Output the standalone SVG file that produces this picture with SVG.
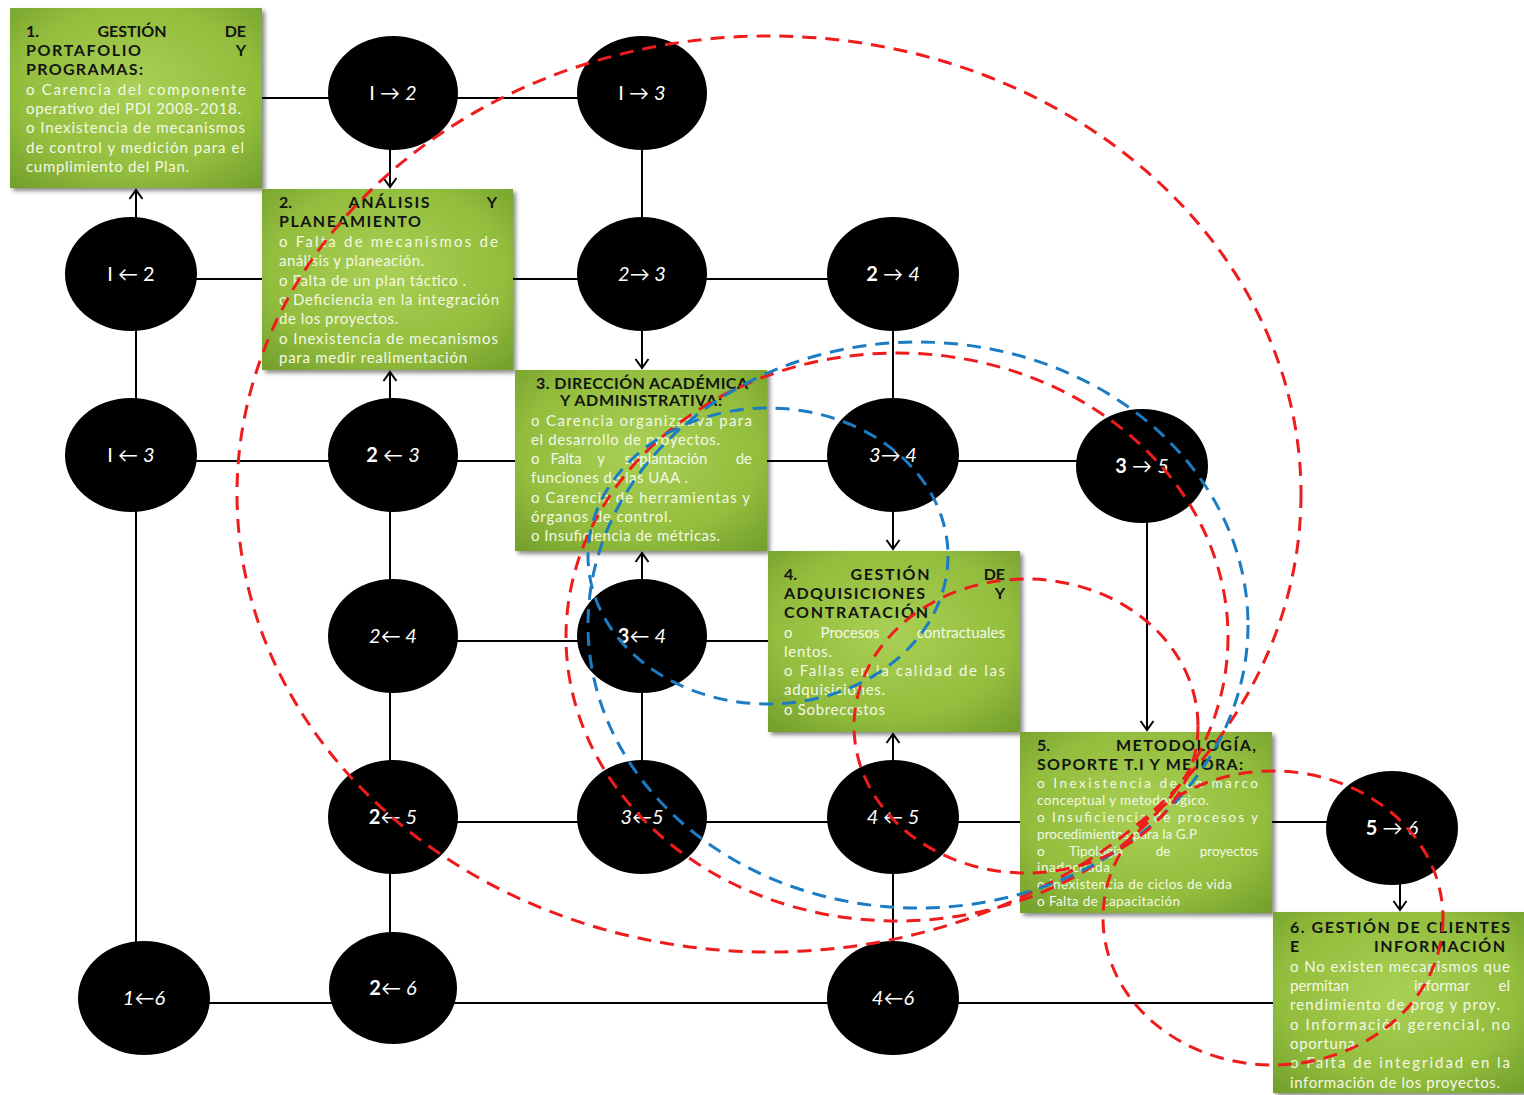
<svg xmlns="http://www.w3.org/2000/svg" width="1524" height="1095" viewBox="0 0 1524 1095">
  <defs>
    <radialGradient id="green" cx="50%" cy="45%" r="72%">
      <stop offset="0" stop-color="#a9d055"/>
      <stop offset="0.65" stop-color="#93bd3d"/>
      <stop offset="1" stop-color="#74a02c"/>
    </radialGradient>
    <filter id="shadow" x="-5%" y="-5%" width="115%" height="115%">
      <feDropShadow dx="3" dy="3" stdDeviation="2" flood-color="#000" flood-opacity="0.45"/>
    </filter>
    <marker id="arrow" markerUnits="userSpaceOnUse" markerWidth="16" markerHeight="16" refX="11" refY="8" orient="auto">
      <path d="M2,1.5 L11,8 L2,14.5" fill="none" stroke="#000" stroke-width="2"/>
    </marker>
  </defs>
  <style>
    .box { fill: url(#green); filter: url(#shadow); }
    .t { font-family: Lato, "Liberation Sans", sans-serif; font-weight: bold; font-size: 16px; fill: #141414; }
    .b { font-family: Lato, "Liberation Sans", sans-serif; font-size: 15px; fill: #f4f8e8; }
    .b5 { font-family: Lato, "Liberation Sans", sans-serif; font-size: 13.5px; fill: #f4f8e8; }
    .e { text-anchor: end; }
    .m { text-anchor: middle; }
    .node { fill: #000; }
    .lbl { font-family: Lato, "Liberation Sans", sans-serif; font-size: 20px; fill: #fff; text-anchor: middle; }
    .it { font-style: italic; }
    .bd { font-weight: bold; }
    .conn { stroke: #000; stroke-width: 2; fill: none; }
    .ring { fill: none; stroke-width: 3; stroke-dasharray: 14 9; }
    .red { stroke: #ee1c1c; }
    .blue { stroke: #1b7cc4; }
  </style>
  <rect width="1524" height="1095" fill="#fff"/>

  <!-- connectors -->
  <g id="connectors">
    <path class="conn" d="M262 98 H578"/>
    <path class="conn" d="M136 279 H893"/>
    <path class="conn" d="M136 461 H1142"/>
    <path class="conn" d="M393 641 H768"/>
    <path class="conn" d="M393 822 H1392"/>
    <path class="conn" d="M144 1003 H1273"/>
    <path class="conn" d="M136 998 V274"/>
    <path class="conn" d="M136 274 V190" marker-end="url(#arrow)"/>
    <path class="conn" d="M390 93 V187" marker-end="url(#arrow)"/>
    <path class="conn" d="M390 455 V372" marker-end="url(#arrow)"/>
    <path class="conn" d="M390 455 V988"/>
    <path class="conn" d="M642 93 V368" marker-end="url(#arrow)"/>
    <path class="conn" d="M642 636 V553" marker-end="url(#arrow)"/>
    <path class="conn" d="M642 636 V817"/>
    <path class="conn" d="M893 274 V549" marker-end="url(#arrow)"/>
    <path class="conn" d="M893 817 V734" marker-end="url(#arrow)"/>
    <path class="conn" d="M893 817 V998"/>
    <path class="conn" d="M1147 466 V730" marker-end="url(#arrow)"/>
    <path class="conn" d="M1400 828 V910" marker-end="url(#arrow)"/>
  </g>

  <!-- interaction nodes -->
  <g id="n1-2"><ellipse class="node" cx="393" cy="93" rx="65" ry="57"/><text class="lbl" x="393" y="100">I → <tspan class="it">2</tspan></text></g>
  <g id="n1-3"><ellipse class="node" cx="642" cy="93" rx="65" ry="57"/><text class="lbl" x="642" y="100">I → <tspan class="it">3</tspan></text></g>
  <g id="n1-2b"><ellipse class="node" cx="131" cy="274" rx="66" ry="57"/><text class="lbl" x="131" y="281">I ← 2</text></g>
  <g id="n2-3"><ellipse class="node" cx="642" cy="274" rx="65" ry="57"/><text class="lbl it" x="642" y="281">2→ 3</text></g>
  <g id="n2-4"><ellipse class="node" cx="893" cy="274" rx="66" ry="57"/><text class="lbl" x="893" y="281"><tspan class="bd">2</tspan> → <tspan class="it">4</tspan></text></g>
  <g id="n1-3b"><ellipse class="node" cx="131" cy="455" rx="66" ry="57"/><text class="lbl" x="131" y="462">I ← <tspan class="it">3</tspan></text></g>
  <g id="n2-3b"><ellipse class="node" cx="393" cy="455" rx="65" ry="57"/><text class="lbl" x="393" y="462"><tspan class="bd">2</tspan> ← <tspan class="it">3</tspan></text></g>
  <g id="n3-4"><ellipse class="node" cx="893" cy="455" rx="66" ry="57"/><text class="lbl it" x="893" y="462">3→ 4</text></g>
  <g id="n3-5"><ellipse class="node" cx="1142" cy="466" rx="66" ry="57"/><text class="lbl" x="1142" y="473"><tspan class="bd">3</tspan> → <tspan class="it">5</tspan></text></g>
  <g id="n2-4b"><ellipse class="node" cx="393" cy="636" rx="65" ry="57"/><text class="lbl it" x="393" y="643">2← 4</text></g>
  <g id="n3-4b"><ellipse class="node" cx="642" cy="636" rx="65" ry="57"/><text class="lbl" x="642" y="643"><tspan class="bd">3</tspan>← <tspan class="it">4</tspan></text></g>
  <g id="n2-5b"><ellipse class="node" cx="393" cy="817" rx="65" ry="57"/><text class="lbl" x="393" y="824"><tspan class="bd">2</tspan>← <tspan class="it">5</tspan></text></g>
  <g id="n3-5b"><ellipse class="node" cx="642" cy="817" rx="65" ry="57"/><text class="lbl it" x="642" y="824">3←5</text></g>
  <g id="n4-5b"><ellipse class="node" cx="893" cy="817" rx="66" ry="57"/><text class="lbl it" x="893" y="824">4 ← 5</text></g>
  <g id="n5-6"><ellipse class="node" cx="1392" cy="828" rx="66" ry="57"/><text class="lbl" x="1392" y="835"><tspan class="bd">5</tspan> → <tspan class="it">6</tspan></text></g>
  <g id="n1-6b"><ellipse class="node" cx="144" cy="998" rx="66" ry="57"/><text class="lbl it" x="144" y="1005">1←6</text></g>
  <g id="n2-6b"><ellipse class="node" cx="393" cy="988" rx="64" ry="56"/><text class="lbl" x="393" y="995"><tspan class="bd">2</tspan>← <tspan class="it">6</tspan></text></g>
  <g id="n4-6b"><ellipse class="node" cx="893" cy="998" rx="66" ry="57"/><text class="lbl it" x="893" y="1005">4←6</text></g>

  <!-- process areas -->
  <g id="area1">
    <rect class="box" x="10" y="8" width="252" height="180"/>
    <text class="t" x="26" y="37">1.</text>
    <text class="t m" x="132" y="37">GESTIÓN</text>
    <text class="t e" x="246" y="37">DE</text>
    <text class="t" x="26" y="56" textLength="115">PORTAFOLIO</text>
    <text class="t e" x="246" y="56">Y</text>
    <text class="t" x="26" y="75" textLength="117">PROGRAMAS:</text>
    <text class="b" x="26" y="95" textLength="220">o  Carencia  del  componente</text>
    <text class="b" x="26" y="114" textLength="215">operativo del PDI 2008-2018.</text>
    <text class="b" x="26" y="133" textLength="219">o Inexistencia de mecanismos</text>
    <text class="b" x="26" y="153" textLength="218">de control y medición para el</text>
    <text class="b" x="26" y="172" textLength="163">cumplimiento del Plan.</text>
  </g>

  <g id="area2">
    <rect class="box" x="262" y="189" width="251" height="181"/>
    <text class="t" x="279" y="208">2.</text>
    <text class="t m" x="389" y="208" textLength="81">ANÁLISIS</text>
    <text class="t e" x="497" y="208">Y</text>
    <text class="t" x="279" y="227" textLength="142">PLANEAMIENTO</text>
    <text class="b" x="279" y="247" textLength="219">o  Falta  de  mecanismos  de</text>
    <text class="b" x="279" y="266" textLength="145">análisis y planeación.</text>
    <text class="b" x="279" y="286" textLength="187">o Falta de un plan táctico .</text>
    <text class="b" x="279" y="305" textLength="220">o Deficiencia en la integración</text>
    <text class="b" x="279" y="324" textLength="119">de los proyectos.</text>
    <text class="b" x="279" y="344" textLength="219">o Inexistencia de mecanismos</text>
    <text class="b" x="279" y="363" textLength="188">para medir realimentación</text>
  </g>

  <g id="area3">
    <rect class="box" x="515" y="370" width="252" height="181"/>
    <text class="t m" x="642" y="389" textLength="212">3. DIRECCIÓN ACADÉMICA</text>
    <text class="t m" x="641" y="406" textLength="162">Y ADMINISTRATIVA:</text>
    <text class="b" x="531" y="426" textLength="221">o  Carencia  organizativa  para</text>
    <text class="b" x="531" y="445" textLength="189">el desarrollo de proyectos.</text>
    <text class="b" x="531" y="464">o</text>
    <text class="b m" x="566" y="464">Falta</text>
    <text class="b m" x="601" y="464">y</text>
    <text class="b m" x="666" y="464">suplantación</text>
    <text class="b e" x="752" y="464">de</text>
    <text class="b" x="531" y="483" textLength="157">funciones de las UAA .</text>
    <text class="b" x="531" y="503" textLength="219">o Carencia de herramientas y</text>
    <text class="b" x="531" y="522" textLength="141">órganos de control.</text>
    <text class="b" x="531" y="541" textLength="189">o Insuficiencia de métricas.</text>
  </g>

  <g id="area4">
    <rect class="box" x="768" y="551" width="252" height="181"/>
    <text class="t" x="784" y="580">4.</text>
    <text class="t m" x="890" y="580" textLength="79">GESTIÓN</text>
    <text class="t e" x="1005" y="580">DE</text>
    <text class="t" x="784" y="599" textLength="141">ADQUISICIONES</text>
    <text class="t e" x="1005" y="599">Y</text>
    <text class="t" x="784" y="618" textLength="144">CONTRATACIÓN</text>
    <text class="b" x="784" y="638">o</text>
    <text class="b m" x="850" y="638">Procesos</text>
    <text class="b e" x="1005" y="638">contractuales</text>
    <text class="b" x="784" y="657" textLength="48">lentos.</text>
    <text class="b" x="784" y="676" textLength="221">o  Fallas  en  la  calidad  de las</text>
    <text class="b" x="784" y="695" textLength="101">adquisiciones.</text>
    <text class="b" x="784" y="715" textLength="101">o Sobrecostos</text>
  </g>

  <g id="area5">
    <rect class="box" x="1020" y="732" width="252" height="181"/>
    <text class="t" x="1037" y="751">5.</text>
    <text class="t e" x="1256" y="751" textLength="140">METODOLOGÍA,</text>
    <text class="t" x="1037" y="770" textLength="206">SOPORTE T.I Y MEJORA:</text>
    <text class="b5" x="1037" y="788" textLength="221">o  Inexistencia  de  un  marco</text>
    <text class="b5" x="1037" y="805" textLength="172">conceptual y metodológico.</text>
    <text class="b5" x="1037" y="822" textLength="221">o  Insuficiencia  de  procesos  y</text>
    <text class="b5" x="1037" y="839" textLength="160">procedimientos para la G.P</text>
    <text class="b5" x="1037" y="856">o</text>
    <text class="b5 m" x="1096" y="856">Tipología</text>
    <text class="b5 m" x="1163" y="856">de</text>
    <text class="b5 e" x="1258" y="856">proyectos</text>
    <text class="b5" x="1037" y="872" textLength="73">inadecuada</text>
    <text class="b5" x="1037" y="889" textLength="195">o Inexistencia de ciclos de vida</text>
    <text class="b5" x="1037" y="906" textLength="143">o Falta de capacitación</text>
  </g>

  <g id="area6">
    <rect class="box" x="1273" y="912" width="251" height="181"/>
    <text class="t" x="1290" y="933" textLength="220">6. GESTIÓN DE CLIENTES</text>
    <text class="t" x="1290" y="952">E</text>
    <text class="t e" x="1505" y="952" textLength="131">INFORMACIÓN</text>
    <text class="b" x="1290" y="972" textLength="220">o No existen mecanismos que</text>
    <text class="b" x="1290" y="991">permitan</text>
    <text class="b m" x="1442" y="991">informar</text>
    <text class="b e" x="1510" y="991">el</text>
    <text class="b" x="1290" y="1010" textLength="210">rendimiento de prog y proy.</text>
    <text class="b" x="1290" y="1030" textLength="220">o  Información  gerencial,  no</text>
    <text class="b" x="1290" y="1049" textLength="65">oportuna</text>
    <text class="b" x="1290" y="1068" textLength="220">o  Falta  de  integridad  en  la</text>
    <text class="b" x="1290" y="1088" textLength="210">información de los proyectos.</text>
  </g>

  <!-- dashed groupings of interactions -->
  <g id="groupings">
    <ellipse class="ring red" cx="769" cy="494" rx="532" ry="458"/>
    <ellipse class="ring red" cx="897" cy="637" rx="331" ry="284"/>
    <ellipse class="ring blue" cx="918" cy="625" rx="330" ry="283"/>
    <ellipse class="ring blue" cx="768" cy="556" rx="180" ry="148"/>
    <ellipse class="ring red" cx="1026" cy="726" rx="172" ry="147"/>
    <ellipse class="ring red" cx="1273" cy="918" rx="170" ry="147"/>
  </g>
</svg>
